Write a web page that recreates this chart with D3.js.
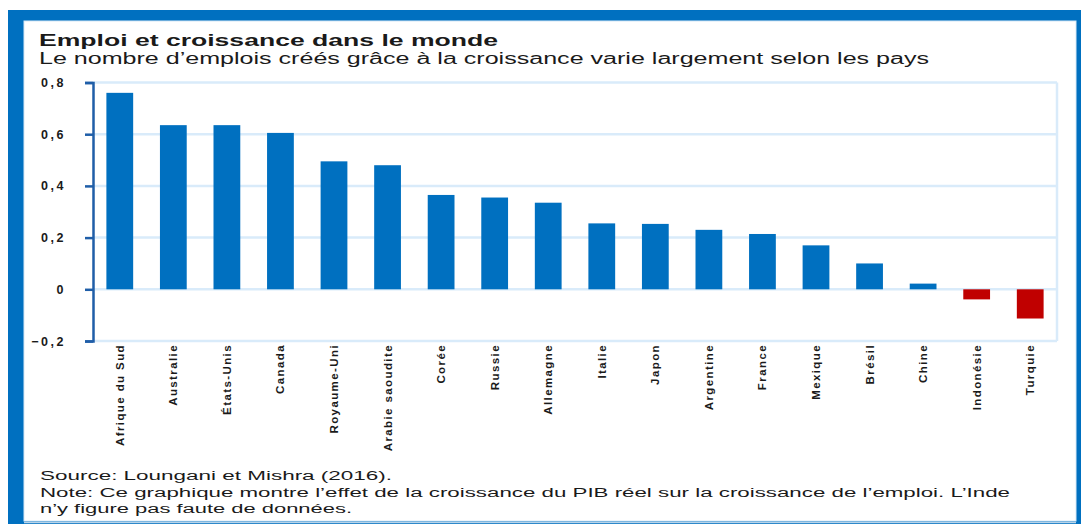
<!DOCTYPE html>
<html>
<head>
<meta charset="utf-8">
<script src="https://cdn.jsdelivr.net/npm/d3@7"></script>
<style>
  body { margin: 0; background: #fff; }
  svg { display: block; font-family: "Liberation Sans", Arial, sans-serif; }
</style>
</head>
<body>
<svg id="chart" width="1081" height="524"></svg>
<script>
// données du graphique
const pays = ["Afrique du Sud", "Australie", "États-Unis", "Canada", "Royaume-Uni",
  "Arabie saoudite", "Corée", "Russie", "Allemagne", "Italie", "Japon", "Argentine",
  "France", "Mexique", "Brésil", "Chine", "Indonésie", "Turquie"];
const elasticite = [0.76, 0.635, 0.635, 0.605, 0.495, 0.48, 0.365, 0.355, 0.335,
  0.255, 0.253, 0.23, 0.214, 0.17, 0.10, 0.022, -0.039, -0.113];
const graduations = [-0.2, 0, 0.2, 0.4, 0.6, 0.8];

const svg = d3.select("#chart");

// cadre bleu
svg.append("rect").attr("x", 8).attr("y", 10).attr("width", 1090).attr("height", 530)
  .attr("fill", "#0070c0");
svg.append("rect").attr("x", 24).attr("y", 21).attr("width", 1052).attr("height", 500)
  .attr("fill", "#fff").attr("stroke", "#d6e8f6").attr("stroke-width", 1);
svg.append("line").attr("x1", 24).attr("x2", 1076).attr("y1", 522.5).attr("y2", 522.5)
  .attr("stroke", "#b8d4ea").attr("stroke-width", 1.5);

// titres
svg.append("text").attr("x", 39).attr("y", 46)
  .attr("font-size", 17).attr("font-weight", "bold").attr("fill", "#1a1a1a")
  .attr("textLength", 459).attr("lengthAdjust", "spacingAndGlyphs")
  .text("Emploi et croissance dans le monde");
svg.append("text").attr("x", 39).attr("y", 64)
  .attr("font-size", 16).attr("fill", "#1a1a1a")
  .attr("textLength", 890).attr("lengthAdjust", "spacingAndGlyphs")
  .text("Le nombre d’emplois créés grâce à la croissance varie largement selon les pays");

const x = d3.scaleBand().domain(pays).range([93, 1057]).paddingInner(0.5).paddingOuter(0.25);
const y = d3.scaleLinear().domain([-0.2, 0.8]).range([341, 82.5]);

// grille
svg.append("g").selectAll("line").data(graduations).join("line")
  .attr("x1", 93).attr("x2", 1057)
  .attr("y1", d => y(d)).attr("y2", d => y(d))
  .attr("stroke", "#d9ebfa").attr("stroke-width", 2.5);
svg.append("line").attr("x1", 1057).attr("x2", 1057)
  .attr("y1", y(0.8)).attr("y2", y(-0.2))
  .attr("stroke", "#d9ebfa").attr("stroke-width", 2.5);

// barres
svg.append("g").selectAll("rect").data(elasticite).join("rect")
  .attr("x", (d, i) => x(pays[i]))
  .attr("width", x.bandwidth())
  .attr("y", d => y(Math.max(0, d)))
  .attr("height", d => Math.abs(y(d) - y(0)))
  .attr("fill", d => d < 0 ? "#c00000" : "#0070c0");

// axe vertical
const axeY = svg.append("g").attr("transform", "translate(93,0)")
  .call(d3.axisLeft(y).tickValues(graduations).tickSize(8).tickPadding(19)
    .tickFormat(d => d === 0 ? "0" : d3.format(".1f")(d).replace(".", ",")));
axeY.select(".domain").attr("stroke", "#1f5ea8").attr("stroke-width", 2.5);
axeY.selectAll(".tick line").attr("stroke", "#1f5ea8").attr("stroke-width", 2.5);
axeY.selectAll(".tick text").attr("font-size", 12.5).attr("font-weight", "bold")
  .attr("letter-spacing", 2.5)
  .attr("fill", "#1a1a1a").attr("font-family", "Liberation Sans, Arial, sans-serif");

// étiquettes des pays
svg.append("g").selectAll("text").data(pays).join("text")
  .attr("transform", d => `translate(${x(d) + x.bandwidth() / 2 + 4},344) rotate(-90)`)
  .attr("text-anchor", "end")
  .attr("font-size", 11.5).attr("font-weight", "bold").attr("fill", "#1a1a1a")
  .attr("letter-spacing", 1.4)
  .text(d => d);

// source et note
const pied = [
  { t: "Source: Loungani et Mishra (2016).", y: 480, l: 352 },
  { t: "Note: Ce graphique montre l’effet de la croissance du PIB réel sur la croissance de l’emploi. L’Inde", y: 497, l: 970 },
  { t: "n’y figure pas faute de données.", y: 513, l: 312 }
];
svg.append("g").selectAll("text").data(pied).join("text")
  .attr("x", 40).attr("y", d => d.y)
  .attr("font-size", 12.5).attr("fill", "#1a1a1a")
  .attr("textLength", d => d.l).attr("lengthAdjust", "spacingAndGlyphs")
  .text(d => d.t);
</script>
</body>
</html>
